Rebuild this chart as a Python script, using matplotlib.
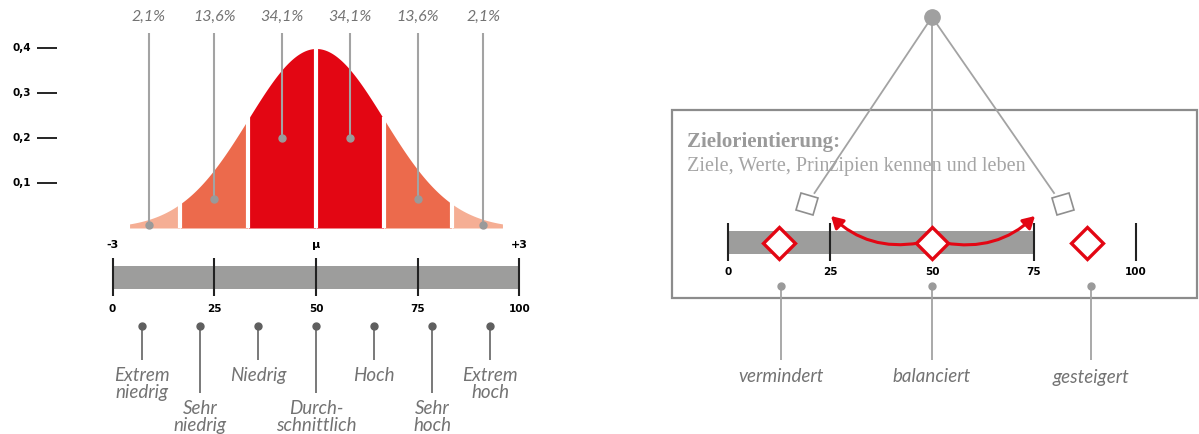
import numpy as np
import matplotlib
matplotlib.use("Agg")
import matplotlib.pyplot as plt
from matplotlib.markers import MarkerStyle
from matplotlib.transforms import Affine2D
from matplotlib.patches import Rectangle, FancyArrowPatch

# --- DATA ---------------------------------------------------------------
density_ticks = [0.1, 0.2, 0.3, 0.4]
density_tick_labels = ["0,1", "0,2", "0,3", "0,4"]

sigma_edges = [-2.75, -2, -1, 0, 1, 2, 2.75]
segment_pct = ["2,1%", "13,6%", "34,1%", "34,1%", "13,6%", "2,1%"]
pct_label_x = [-2.47, -1.5, -0.5, 0.5, 1.5, 2.47]
pct_dot_y = [0.007, 0.064, 0.2, 0.2, 0.064, 0.007]

scale_ticks = [0, 25, 50, 75, 100]
sigma_tick_labels = {0: "-3", 50: "μ", 100: "+3"}

categories = ["Extrem\nniedrig", "Sehr\nniedrig", "Niedrig", "Durch-\nschnittlich",
              "Hoch", "Sehr\nhoch", "Extrem\nhoch"]
category_pos = [7.14, 21.43, 35.71, 50, 64.29, 78.57, 92.86]
category_long = [False, True, False, True, False, True, False]

bar_end = 75
diamond_pos = [12.5, 50, 88]
pend_labels = ["vermindert", "balanciert", "gesteigert"]
pend_label_pos = [13, 50, 89]
title = "Zielorientierung:"
subtitle = "Ziele, Werte, Prinzipien kennen und leben"
# ------------------------------------------------------------------------

RED = "#e30613"
SEG_COLORS = ["#f5ae94", "#ec6a4c", RED, RED, "#ec6a4c", "#f5ae94"]
BAR_GRAY = "#9d9d9c"
LINE_GRAY = "#a3a3a3"
DARK_GRAY = "#6e6e6e"
TEXT_GRAY = "#737373"
ITALIC = dict(family=["Lato", "DejaVu Sans"], style="italic", color=TEXT_GRAY)
BOLD = dict(family="DejaVu Sans", weight="bold", color="black")

fig = plt.figure(figsize=(11.99, 4.34), dpi=100)

# ---------------- left: normal distribution ----------------------------
PX0, PXS = 316, 67.8     # pixel of mu, pixels per sigma
PY0, PYS = 228, 450      # pixel of density 0, pixels per unit density


def Y(py):
    return (PY0 - py) / PYS


def S(v):
    return (v - 50) * 0.06


ax = fig.add_axes([0, 0, 600 / 1199, 1])
ax.set_xlim(-PX0 / PXS, (600 - PX0) / PXS)
ax.set_ylim(Y(434), Y(0))
ax.axis("off")

xs = np.linspace(sigma_edges[0], sigma_edges[-1], 600)
pdf = np.exp(-xs ** 2 / 2) / np.sqrt(2 * np.pi)
for i, c in enumerate(SEG_COLORS):
    m = (xs >= sigma_edges[i]) & (xs <= sigma_edges[i + 1])
    ax.fill_between(xs[m], 0, pdf[m], color=c, lw=0, zorder=1)
for b in sigma_edges[1:-1]:
    ax.vlines(b, 0, np.exp(-b ** 2 / 2) / np.sqrt(2 * np.pi) + 0.005,
              color="white", lw=3, zorder=2)

for x, yd, lab in zip(pct_label_x, pct_dot_y, segment_pct):
    ax.vlines(x, yd, Y(33), color=LINE_GRAY, lw=1.5, zorder=3)
    ax.plot(x, yd, "o", ms=5, color="#9a9a9a", zorder=4)
    ax.text(x, Y(17), lab, ha="center", va="center", fontsize=11.5, **ITALIC)

for yv, lab in zip(density_ticks, density_tick_labels):
    ax.hlines(yv, (37 - PX0) / PXS, (57 - PX0) / PXS, color="black", lw=1.2)
    ax.text((31 - PX0) / PXS, yv, lab, ha="right", va="center", fontsize=7.5, **BOLD)

ax.add_patch(Rectangle((S(0), Y(289)), S(100) - S(0), Y(266) - Y(289),
                       color=BAR_GRAY, lw=0, zorder=1))
for v in scale_ticks:
    ax.vlines(S(v), Y(296), Y(258), color="#222222", lw=1.5, zorder=2)
    ax.text(S(v), Y(309), str(v), ha="center", va="center", fontsize=7.5, **BOLD)
for v, lab in sigma_tick_labels.items():
    ax.text(S(v), Y(245), lab, ha="center", va="center", fontsize=8, **BOLD)

for v, lab, long in zip(category_pos, categories, category_long):
    end = 393 if long else 360
    ax.vlines(S(v), Y(end), Y(326), color=DARK_GRAY, lw=1.3)
    ax.plot(S(v), Y(326), "o", ms=5, color="#5f5f5f")
    ax.text(S(v), Y(end + 7), lab, ha="center", va="top", fontsize=13.5,
            linespacing=1.0, **ITALIC)

# ---------------- right: pendulum -------------------------------------
RX0, RXS = 728, 4.08
ax2 = fig.add_axes([600 / 1199, 0, 599 / 1199, 1])
ax2.set_xlim((600 - RX0) / RXS, (1199 - RX0) / RXS)
ax2.set_ylim(434, 0)
ax2.axis("off")


def V(px):
    return (px - RX0) / RXS


ax2.add_patch(Rectangle((V(672), 110), V(1197) - V(672), 188, fill=False,
                        ec="#8c8c8c", lw=1.6, zorder=1))
ax2.text(V(687), 142, title, ha="left", va="center", fontsize=15,
         family="Liberation Serif", weight="bold", color="#9a9a9a", zorder=2)
ax2.text(V(687), 167, subtitle, ha="left", va="center", fontsize=14.5,
         family="Liberation Serif", color="#a5a5a5", zorder=2)

ax2.add_patch(Rectangle((0, 231), bar_end, 23, color=BAR_GRAY, lw=0, zorder=2))
for v in scale_ticks:
    if v != 50:
        ax2.vlines(v, 223, 261, color="#222222", lw=1.5, zorder=3)
    ax2.text(v, 272, str(v), ha="center", va="center", fontsize=7.5, **BOLD)

# pendulum
pivot = (50, 17)
ax2.plot([pivot[0], 50], [pivot[1], 229], color=LINE_GRAY, lw=1.3, zorder=3)
ax2.plot([pivot[0], V(814.5)], [pivot[1], 193], color=LINE_GRAY, lw=1.3, zorder=3)
ax2.plot([pivot[0], V(1054)], [pivot[1], 193], color=LINE_GRAY, lw=1.3, zorder=3)
ax2.plot(*pivot, "o", ms=11, color="#a0a0a0", zorder=4)
for px, ang in [(806.5, -15), (1062.5, 15)]:
    ms = MarkerStyle("s", transform=Affine2D().rotate_deg(ang))
    ax2.plot(V(px), 204, marker=ms, ms=13, mfc="white", mec="#8f8f8f", mew=1.2,
             ls="none", zorder=4)

# red swing arrows
for start, tip, rad in [(V(919), V(831), -0.25), (V(945), V(1035), 0.25)]:
    ax2.add_patch(FancyArrowPatch((start, 243), (tip, 216),
                                  connectionstyle=f"arc3,rad={rad}",
                                  arrowstyle="-|>,head_length=7,head_width=4",
                                  color=RED, lw=2.2, zorder=5,
                                  shrinkA=0, shrinkB=0))

ax2.plot(diamond_pos, [243] * len(diamond_pos), "D", ms=16, mfc="white",
         mec=RED, mew=2.4, ls="none", zorder=6)

for v, lab in zip(pend_label_pos, pend_labels):
    ax2.vlines(v, 286, 360, color=LINE_GRAY, lw=1.3)
    ax2.plot(v, 286, "o", ms=5, color="#9a9a9a")
    ax2.text(v, 377, lab, ha="center", va="center", fontsize=13.5, **ITALIC)

fig.savefig("out.png", dpi=100, facecolor="white")
